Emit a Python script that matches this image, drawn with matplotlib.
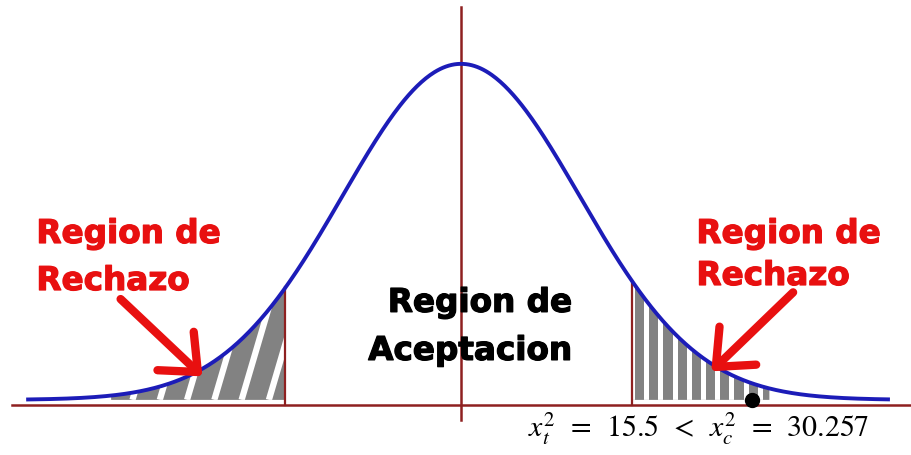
import numpy as np
import matplotlib.pyplot as plt
import matplotlib.patheffects as pe

plt.rcParams['mathtext.fontset'] = 'stix'

# values (standard units of the bell curve)
z_crit = [-1.48, 1.44]          # left / right critical lines
z_tails = [-3.65, 3.60]         # where the drawn curve starts / ends
z_dot = 2.45                    # black dot on the axis
chi_t = 15.5
chi_c = 30.257
label_reject = ["Region de", "Rechazo"]
label_accept = ["Region de", "Aceptacion"]

dark_red = '#8e2020'
blue = '#1c1cb8'
red = '#e81010'


def bell(z):
    return np.exp(-z ** 2 / 2)


def striped_fill(ax, z0, z1, slope, step, lw):
    # grey area under the curve with white stripes clipped to it
    zs = np.linspace(z0, z1, 200)
    poly = ax.fill(np.r_[zs, z1, z0], np.r_[bell(zs), 0, 0],
                   color='#828282', lw=0, zorder=2)[0]
    starts = np.arange(z0 - 1.2, z1 + 0.2, step)
    for s in starts:
        if slope is None:
            xx, yy = [s, s], [0, 1]
        else:
            xx, yy = [s, s + 1.0], [0, slope]
        ln, = ax.plot(xx, yy, color='white', lw=lw, zorder=3,
                      solid_capstyle='butt')
        ln.set_clip_path(poly)


fig = plt.figure(figsize=(9.11, 4.55), dpi=100)
ax = fig.add_axes([0, 0, 1, 1])
ax.set_xlim(-3.887, 3.794)
ax.set_ylim(-0.164, 1.190)
ax.axis('off')

# shaded rejection regions
striped_fill(ax, z_tails[0] + 0.7, z_crit[0], 1.2, 0.23, 4.5)
striped_fill(ax, z_crit[1], z_dot + 0.15, None, 0.12, 3.6)

# axis and reference lines
ax.plot([-3.79, 3.794], [-0.015, -0.015], color=dark_red, lw=1.8, zorder=4)
ax.plot([0, 0], [-0.06, 1.17], color=dark_red, lw=1.8, zorder=4)
for zc in z_crit:
    ax.plot([zc, zc], [-0.015, bell(zc)], color=dark_red, lw=1.6, zorder=4)

# the curve
z = np.linspace(z_tails[0], z_tails[1], 600)
ax.plot(z, bell(z), color=blue, lw=2.8, zorder=5)

ax.plot(z_dot, 0.0, 'o', color='black', ms=10, zorder=6)

# labels, one text per line, slightly thickened with a stroke
def heavy(c):
    return [pe.withStroke(linewidth=0.9, foreground=c)]

red_txt = dict(color=red, fontsize=23.5, fontweight='bold', ha='left',
               va='baseline', zorder=7, path_effects=heavy(red))
ax.text(-3.58, 0.467, label_reject[0], **red_txt)
ax.text(-3.58, 0.327, label_reject[1], **red_txt)
ax.text(1.985, 0.467, label_reject[0], **red_txt)
ax.text(1.985, 0.342, label_reject[1], **red_txt)

blk_txt = dict(color='black', fontsize=23.5, fontweight='bold', ha='center',
               va='baseline', zorder=7, path_effects=heavy('black'))
ax.text(0.16, 0.262, label_accept[0], **blk_txt)
ax.text(0.076, 0.119, label_accept[1], **blk_txt)

arrow = dict(arrowstyle='->,head_length=1.1,head_width=0.95', color=red,
             lw=6, shrinkA=0, shrinkB=0, mutation_scale=20)
ax.annotate('', xy=(-2.18, 0.07), xytext=(-2.87, 0.30),
            arrowprops=arrow, zorder=7)
ax.annotate('', xy=(2.11, 0.085), xytext=(2.80, 0.32),
            arrowprops=arrow, zorder=7)

ax.text(0.565, -0.110,
        r'$x_t^2\ \,=\ \,%s\ \,<\ \,x_c^2\ \,=\ \,%s$' % (chi_t, chi_c),
        fontsize=21.5, ha='left', va='baseline', zorder=7)

fig.savefig('out.png', dpi=100)
